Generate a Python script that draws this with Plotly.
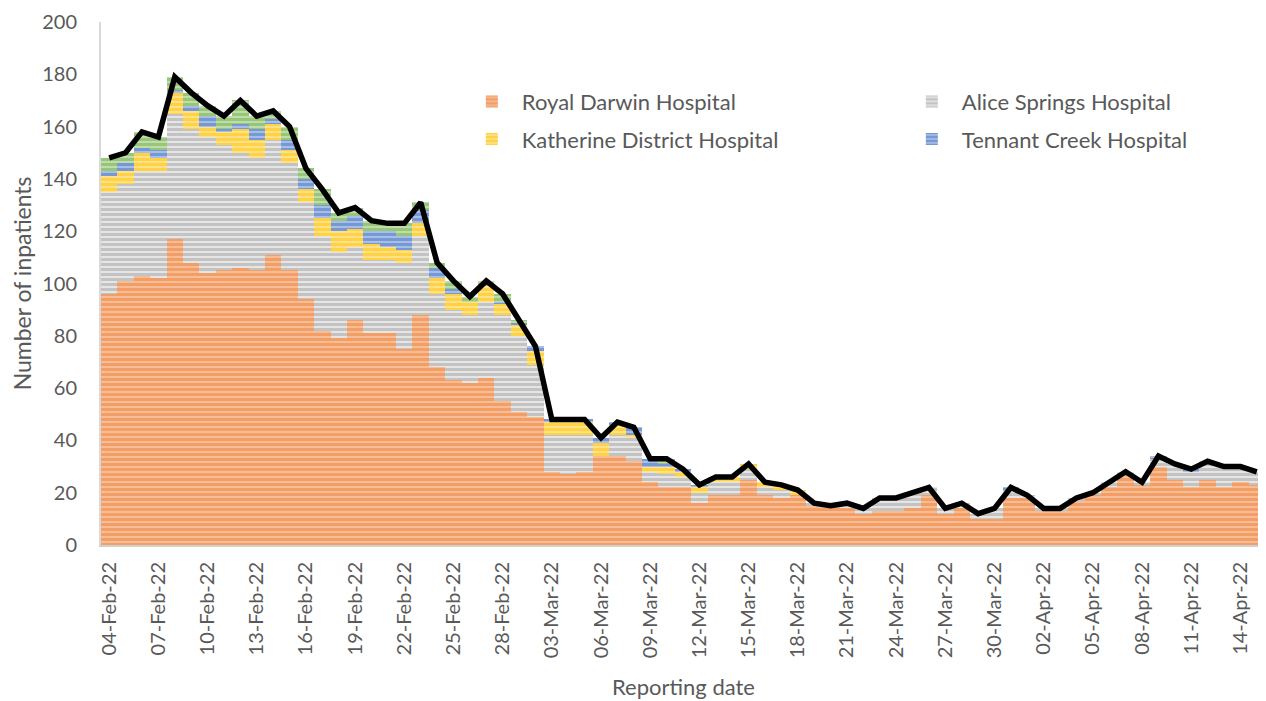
import plotly.graph_objects as go

dates = [
    "04-Feb-22", "05-Feb-22", "06-Feb-22", "07-Feb-22", "08-Feb-22", "09-Feb-22", "10-Feb-22",
    "11-Feb-22", "12-Feb-22", "13-Feb-22", "14-Feb-22", "15-Feb-22", "16-Feb-22", "17-Feb-22",
    "18-Feb-22", "19-Feb-22", "20-Feb-22", "21-Feb-22", "22-Feb-22", "23-Feb-22", "24-Feb-22",
    "25-Feb-22", "26-Feb-22", "27-Feb-22", "28-Feb-22", "01-Mar-22", "02-Mar-22", "03-Mar-22",
    "04-Mar-22", "05-Mar-22", "06-Mar-22", "07-Mar-22", "08-Mar-22", "09-Mar-22", "10-Mar-22",
    "11-Mar-22", "12-Mar-22", "13-Mar-22", "14-Mar-22", "15-Mar-22", "16-Mar-22", "17-Mar-22",
    "18-Mar-22", "19-Mar-22", "20-Mar-22", "21-Mar-22", "22-Mar-22", "23-Mar-22", "24-Mar-22",
    "25-Mar-22", "26-Mar-22", "27-Mar-22", "28-Mar-22", "29-Mar-22", "30-Mar-22", "31-Mar-22",
    "01-Apr-22", "02-Apr-22", "03-Apr-22", "04-Apr-22", "05-Apr-22", "06-Apr-22", "07-Apr-22",
    "08-Apr-22", "09-Apr-22", "10-Apr-22", "11-Apr-22", "12-Apr-22", "13-Apr-22", "14-Apr-22",
    "15-Apr-22",
]

royal_darwin = [96, 101, 103, 102, 117, 108, 104, 105, 106, 105, 111, 105, 94, 82,
                79, 86, 81, 81, 75, 88, 68, 63, 62, 64, 55, 51, 49, 28,
                27, 28, 34, 34, 32, 24, 22, 22, 16, 19, 19, 25, 19, 18,
                19, 15, 15, 14, 12, 13, 13, 14, 19, 12, 14, 10, 10, 18,
                18, 13, 13, 17, 19, 22, 27, 23, 30, 25, 22, 25, 22, 24, 23]
alice_springs = [39, 37, 40, 41, 48, 51, 52, 48, 44, 43, 44, 41, 37, 36,
                 33, 28, 28, 28, 33, 30, 28, 27, 26, 29, 33, 29, 20, 14,
                 15, 14, 0, 8, 9, 4, 5, 4, 4, 5, 5, 4, 3, 3,
                 0, 1, 0, 2, 2, 5, 5, 6, 3, 2, 2, 2, 4, 3,
                 1, 1, 1, 1, 1, 2, 1, 1, 3, 6, 6, 7, 8, 6, 5]
katherine = [6, 5, 7, 5, 8, 7, 4, 5, 9, 7, 6, 5, 5, 7,
             8, 7, 6, 5, 5, 5, 6, 6, 5, 6, 4, 4, 5, 5,
             5, 5, 5, 4, 1, 2, 3, 2, 2, 2, 2, 2, 2, 2,
             2, 0, 0, 0, 0, 0, 0, 0, 0, 0, 0, 0, 0, 0,
             0, 0, 0, 0, 0, 0, 0, 0, 0, 0, 0, 0, 0, 0, 0]
tennant_creek = [2, 3, 2, 3, 1, 2, 4, 1, 2, 4, 2, 4, 4, 5,
                 4, 5, 5, 6, 5, 5, 4, 2, 0, 0, 1, 1, 2, 1,
                 1, 1, 2, 1, 3, 3, 1, 1, 1, 0, 0, 0, 0, 0,
                 0, 0, 0, 0, 0, 0, 0, 0, 0, 0, 0, 0, 0, 1,
                 0, 0, 0, 0, 0, 0, 0, 0, 1, 0, 1, 0, 0, 0, 0]
gove_district = [5, 4, 6, 5, 5, 5, 4, 5, 9, 5, 3, 5, 4, 6,
                 3, 3, 4, 3, 5, 3, 2, 3, 2, 2, 3, 1, 0, 0,
                 0, 0, 0, 0, 0, 0, 2, 0, 0, 0, 0, 0, 0, 0,
                 0, 0, 0, 0, 0, 0, 0, 0, 0, 0, 0, 0, 0, 0,
                 0, 0, 0, 0, 0, 0, 0, 0, 0, 0, 0, 0, 0, 0, 0]
total = [148, 150, 158, 156, 179, 173, 168, 164, 170, 164, 166, 160, 144, 136,
         127, 129, 124, 123, 123, 131, 108, 101, 95, 101, 96, 86, 76, 48,
         48, 48, 41, 47, 45, 33, 33, 29, 23, 26, 26, 31, 24, 23,
         21, 16, 15, 16, 14, 18, 18, 20, 22, 14, 16, 12, 14, 22,
         19, 14, 14, 18, 20, 24, 28, 24, 34, 31, 29, 32, 30, 30, 28]

y_ticks = [0, 20, 40, 60, 80, 100, 120, 140, 160, 180, 200]

FONT = "Lato"
TXT = "#595959"

series = [
    ("Royal Darwin Hospital", royal_darwin, "#F6BE98", "#ED7D31", "legend", True),
    ("Alice Springs Hospital", alice_springs, "#E6E6E6", "#A0A0A0", "legend2", True),
    ("Katherine District Hospital", katherine, "#FFE28A", "#FFC000", "legend", True),
    ("Tennant Creek Hospital", tennant_creek, "#A9BFE6", "#4472C4", "legend2", True),
    ("Gove District Hospital", gove_district, "#BFDDAB", "#70AD47", "legend", False),
]

fig = go.Figure()
for name, vals, light, main, leg, show in series:
    fig.add_trace(go.Bar(
        x=dates, y=vals, name=name,
        marker=dict(color=light, line=dict(width=0),
                    pattern=dict(shape="-", fgcolor=main, fillmode="overlay",
                                 size=5, solidity=0.62)),
        legend=leg, legendgroup=name, showlegend=show,
    ))

fig.add_trace(go.Scatter(
    x=dates, y=total, mode="lines", name="Total",
    line=dict(color="black", width=5.5), showlegend=False,
))

legend_common = dict(xanchor="left", yanchor="top", orientation="v",
                     traceorder="grouped", tracegroupgap=6, itemwidth=50,
                     font=dict(size=22, color=TXT, family=FONT),
                     bgcolor="rgba(0,0,0,0)")

fig.update_layout(
    width=1258, height=693,
    barmode="stack", bargap=0,
    plot_bgcolor="white", paper_bgcolor="white",
    margin=dict(l=93, r=1, t=12, b=156),
    font=dict(family=FONT, color=TXT, size=20),
    legend=dict(x=0.310, y=0.888, **legend_common),
    legend2=dict(x=0.688, y=0.888, **legend_common),
    xaxis=dict(
        type="category", tickmode="array", tickvals=dates[::3], ticktext=dates[::3],
        tickangle=-90, showgrid=False, showline=True, linecolor="#D0D0D0", linewidth=2,
        ticks="", ticklabelstandoff=7, tickfont=dict(size=20, color=TXT, family=FONT),
    ),
    yaxis=dict(
        range=[0, 200], tickmode="array", tickvals=y_ticks, showgrid=False,
        showline=True, linecolor="#D9D9D9", linewidth=2, ticks="",
        ticklabelstandoff=18, ticklabeloverflow="allow",
        tickfont=dict(size=20, color=TXT, family=FONT),
        zeroline=False,
    ),
    annotations=[
        dict(text="Number of inpatients", xref="paper", yref="paper", x=-0.068, y=0.5,
             textangle=-90, showarrow=False, xanchor="center", yanchor="middle",
             font=dict(size=23, color=TXT, family=FONT)),
        dict(text="Reporting date", xref="paper", yref="paper", x=0.5, y=-0.2705,
             showarrow=False, xanchor="center", yanchor="middle",
             font=dict(size=22, color=TXT, family=FONT)),
    ],
)

fig.write_html("out.html")
